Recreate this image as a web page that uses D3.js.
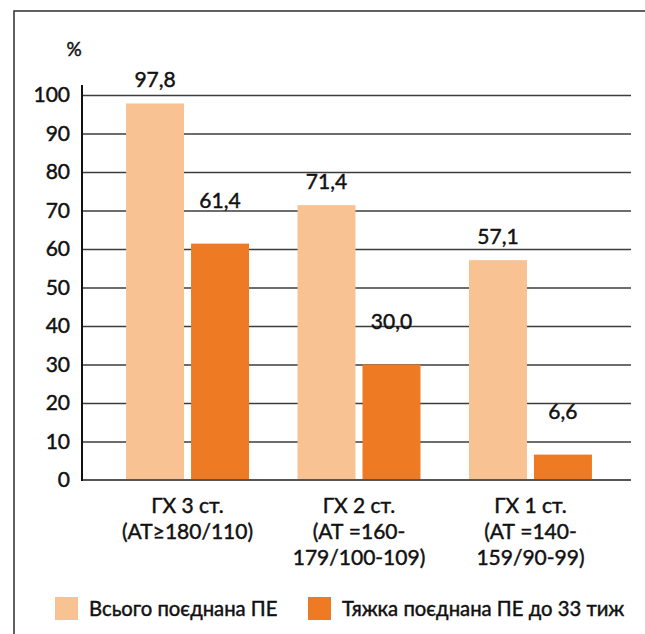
<!DOCTYPE html>
<html lang="uk">
<head>
  <meta charset="UTF-8">
  <title>ГХ та ПЕ</title>
  <script src="https://cdn.jsdelivr.net/npm/d3@7"></script>
  <style>
    body { margin: 0; background: #fff; }
    svg { display: block; font-family: Lato, "Noto Sans", sans-serif; }
    svg text { stroke: #111; stroke-width: 0.45px; }
  </style>
</head>
<body>
<div id="chart"></div>
<script>
  const groups = ['g3', 'g2', 'g1']
  const groupLabels = [
    ['ГХ 3 ст.', '(АТ≥180/110)'],
    ['ГХ 2 ст.', '(АТ =160-', '179/100-109)'],
    ['ГХ 1 ст.', '(АТ =140-', '159/90-99)']
  ]
  const seriesNames = ['Всього поєднана ПЕ', 'Тяжка поєднана ПЕ до 33 тиж']
  const totalPE = [97.8, 71.4, 57.1]
  const severePE = [61.4, 30.0, 6.6]
  const yTicks = [0, 10, 20, 30, 40, 50, 60, 70, 80, 90, 100]
  const colors = ['#F8C293', '#EE7A23']

  const width = 645
  const height = 634
  const axisX = 82
  const gridEnd = 631
  const yTop = 95
  const yBottom = 480

  const svg = d3.select('#chart').append('svg')
    .attr('width', width)
    .attr('height', height)

  // frame
  svg.append('rect')
    .attr('x', 14).attr('y', 11)
    .attr('width', 700).attr('height', 700)
    .attr('fill', 'none')
    .attr('stroke', '#3a3a3a')
    .attr('stroke-width', 1.6)

  const y = d3.scaleLinear().domain([0, 100]).range([yBottom, yTop])

  const x0 = d3.scaleBand()
    .domain(groups)
    .range([82, 636])
    .paddingInner(0.283)
    .paddingOuter(0.257)

  const x1 = d3.scaleBand()
    .domain([0, 1])
    .range([0, x0.bandwidth()])
    .paddingInner(0.108)

  // gridlines + y labels
  const yAxis = svg.append('g')
    .attr('transform', `translate(${axisX},0)`)
    .call(d3.axisLeft(y).tickValues(yTicks).tickSize(0).tickPadding(12))
  yAxis.select('.domain').remove()
  yAxis.selectAll('.tick text')
    .attr('font-size', 21)
    .attr('fill', '#111')
    .attr('font-family', 'Lato, "Noto Sans", sans-serif')
  yAxis.selectAll('.tick')
    .filter(d => d > 0)
    .append('line')
    .attr('x1', 0).attr('x2', gridEnd - axisX)
    .attr('stroke', '#3c3c3c')
    .attr('stroke-width', 1.6)

  const rows = groups.map((g, i) => ({g, i, vals: [totalPE[i], severePE[i]]}))

  const bar = svg.append('g').selectAll('g')
    .data(rows)
    .join('g')
    .attr('transform', d => `translate(${x0(d.g)},0)`)

  bar.selectAll('rect')
    .data(d => d.vals.map((v, s) => ({v, s})))
    .join('rect')
    .attr('x', d => x1(d.s))
    .attr('width', x1.bandwidth())
    .attr('y', d => y(d.v))
    .attr('height', d => y(0) - y(d.v))
    .attr('fill', d => colors[d.s])

  const labelOffset = [16, 36]
  bar.selectAll('text.val')
    .data(d => d.vals.map((v, s) => ({v, s})))
    .join('text')
    .attr('class', 'val')
    .attr('x', d => x1(d.s) + x1.bandwidth() / 2)
    .attr('y', d => y(d.v) - labelOffset[d.s])
    .attr('text-anchor', 'middle')
    .attr('font-size', 21)
    .attr('fill', '#111')
    .text(d => d3.format('.1f')(d.v).replace('.', ','))

  // x axis baseline and y axis line
  svg.append('line')
    .attr('x1', axisX).attr('x2', gridEnd)
    .attr('y1', y(0)).attr('y2', y(0))
    .attr('stroke', '#555').attr('stroke-width', 2)
  svg.append('line')
    .attr('x1', axisX).attr('x2', axisX)
    .attr('y1', 85).attr('y2', y(0) + 1)
    .attr('stroke', '#111').attr('stroke-width', 2)

  svg.append('text')
    .attr('x', 74).attr('y', 56)
    .attr('text-anchor', 'middle')
    .attr('font-size', 19)
    .attr('fill', '#111')
    .text('%')

  // category labels
  svg.append('g').selectAll('text')
    .data(rows)
    .join('text')
    .attr('x', d => x0(d.g) + x0.bandwidth() / 2)
    .attr('y', 513)
    .attr('text-anchor', 'middle')
    .attr('font-size', 21)
    .attr('fill', '#111')
    .selectAll('tspan')
    .data(d => groupLabels[d.i])
    .join('tspan')
    .attr('x', function () { return this.parentNode.getAttribute('x') })
    .attr('dy', (d, i) => i === 0 ? 0 : 26)
    .text(d => d)

  // legend
  const legendX = [55, 308]
  const legend = svg.append('g').selectAll('g')
    .data(seriesNames)
    .join('g')
    .attr('transform', (d, i) => `translate(${legendX[i]},597)`)
  legend.append('rect')
    .attr('width', 23).attr('height', 23)
    .attr('fill', (d, i) => colors[i])
  legend.append('text')
    .attr('x', 34).attr('y', 19)
    .attr('font-size', 20.3)
    .attr('fill', '#111')
    .text(d => d)
</script>
</body>
</html>
